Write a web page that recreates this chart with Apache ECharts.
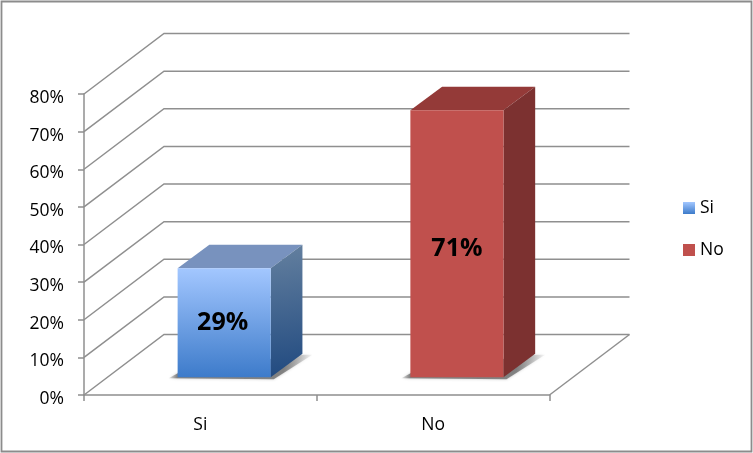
<!DOCTYPE html>
<html>
<head>
<meta charset="utf-8">
<style>html,body{margin:0;padding:0;background:#fff}#c{width:753px;height:453px}</style>
<script src="https://cdn.jsdelivr.net/npm/echarts@6/dist/echarts.min.js"></script>
</head>
<body>
<div id="c"></div>
<script>
var categories = ['Si', 'No'];
var values = [29, 71];
var yTicks = [0, 10, 20, 30, 40, 50, 60, 70, 80];

var FONT = '"Open Sans"';
var WALL_DX = 80, WALL_DY = 60.5;
var BAR_DX = 31.7, BAR_DY = 23.5;
var SHIFT_X = 23.8, SHIFT_Y = 17.7;
var LINE = '#8f8f8f';

function vGrad(a, b) {
  return new echarts.graphic.LinearGradient(0, 0, 0, 1, [{offset: 0, color: a}, {offset: 1, color: b}]);
}
var looks = [
  {
    front: vGrad('#a3c7ff', '#3d7bca'),
    side: new echarts.graphic.LinearGradient(0, 0, 0.5, 1, [{offset: 0, color: '#64809f'}, {offset: 1, color: '#214a80'}]),
    top: '#7892be',
    legend: vGrad('#a3c7ff', '#3d7bca'),
    labelDx: -1.5,
    labelDy: 0
  },
  {
    front: '#c0504d',
    side: '#7c3130',
    top: '#943a38',
    legend: '#c0504d',
    labelDx: 0,
    labelDy: 5
  }
];

function wallRender(params, api) {
  var cs = params.coordSys;
  var p = api.coord([0, api.value(1)]);
  var y = p[1], x0 = cs.x, x1 = cs.x + cs.width;
  var style = {stroke: LINE, lineWidth: 1.5, fill: null};
  var children = [{
    type: 'polyline',
    shape: {points: [[x0, y], [x0 + WALL_DX, y - WALL_DY], [x1 + WALL_DX, y - WALL_DY]]},
    style: style
  }];
  if (api.value(1) === 0) {
    children.push({
      type: 'polyline',
      shape: {points: [[x1, y], [x1 + WALL_DX, y - WALL_DY]]},
      style: style
    });
  }
  return {type: 'group', children: children};
}

function barRender(i) {
  return function (params, api) {
    var look = looks[i];
    var band = api.size([1, 0])[0];
    var w = band * 0.4;
    var c = api.coord([api.value(0), api.value(1)]);
    var base = api.coord([api.value(0), 0]);
    var l = c[0] - w / 2 + SHIFT_X, r = l + w;
    var t = c[1] - SHIFT_Y, b = base[1] - SHIFT_Y;
    var shadow = new echarts.graphic.LinearGradient(0, 0, 1, 0, [
      {offset: 0, color: 'rgba(110,110,110,0.1)'},
      {offset: 0.06, color: 'rgba(110,110,110,0.8)'},
      {offset: 0.8, color: 'rgba(110,110,110,0.8)'},
      {offset: 1, color: 'rgba(120,120,120,0.05)'}
    ]);
    return {type: 'group', children: [
      {type: 'polygon',
       shape: {points: [[l - 9, b + 1], [l + 2, b - 5], [r + BAR_DX - 3, b - BAR_DY + 1], [r + BAR_DX + 10, b - BAR_DY + 1], [r + 3, b + 2]]},
       style: {fill: shadow, shadowBlur: 3, shadowColor: 'rgba(140,140,140,0.6)'}},
      {type: 'polygon',
       shape: {points: [[l, t], [l + BAR_DX, t - BAR_DY], [r + BAR_DX, t - BAR_DY], [r, t]]},
       style: {fill: look.top}},
      {type: 'polygon',
       shape: {points: [[r, t], [r + BAR_DX, t - BAR_DY], [r + BAR_DX, b - BAR_DY], [r, b]]},
       style: {fill: look.side}},
      {type: 'rect',
       shape: {x: l, y: t, width: w, height: b - t},
       style: {fill: look.front}},
      {type: 'text',
       style: {
         x: (l + r) / 2 + look.labelDx, y: (t + b) / 2 + look.labelDy,
         text: api.value(1) + '%',
         align: 'center', verticalAlign: 'middle',
         font: 'bold 25px "Open Sans"', fill: '#000'
       }}
    ]};
  };
}

var series = [{
  name: 'walls',
  type: 'custom',
  silent: true,
  z: 1,
  renderItem: wallRender,
  encode: {x: 0, y: 1},
  data: yTicks.map(function (v) { return [categories[0], v]; })
}];
categories.forEach(function (name, i) {
  series.push({
    name: name,
    type: 'custom',
    z: 3,
    renderItem: barRender(i),
    encode: {x: 0, y: 1},
    itemStyle: {color: looks[i].legend},
    data: [[name, values[i]]]
  });
});

var chart = echarts.init(document.getElementById('c'), null, {renderer: 'canvas'});
chart.setOption({
  animation: false,
  backgroundColor: '#fff',
  graphic: [{
    type: 'rect',
    silent: true,
    shape: {x: 1.5, y: 1.5, width: 750, height: 450},
    style: {fill: null, stroke: '#8c8c8c', lineWidth: 1.8}
  }],
  grid: {left: 84, top: 94, width: 465.5, height: 301},
  legend: {
    data: categories,
    orient: 'vertical',
    left: 683,
    top: 199,
    itemWidth: 12,
    itemHeight: 12,
    itemGap: 24,
    icon: 'rect',
    padding: 0,
    selectedMode: false,
    textStyle: {fontFamily: FONT, fontSize: 17.5, color: '#000'}
  },
  xAxis: {
    type: 'category',
    data: categories,
    boundaryGap: true,
    axisLine: {lineStyle: {color: LINE, width: 1.5}},
    axisTick: {show: true, length: 6, lineStyle: {color: LINE, width: 1.5}},
    axisLabel: {margin: 21, fontFamily: FONT, fontSize: 17.5, color: '#000'},
    splitLine: {show: false}
  },
  yAxis: {
    type: 'value',
    min: 0,
    max: 80,
    interval: 10,
    axisLine: {show: true, lineStyle: {color: LINE, width: 1.5}},
    axisTick: {show: true, length: 6, lineStyle: {color: LINE, width: 1.5}},
    axisLabel: {
      margin: 20,
      formatter: '{value}%',
      fontFamily: FONT, fontSize: 17.5, color: '#000',
      verticalAlign: 'top',
      lineHeight: 8
    },
    splitLine: {show: false}
  },
  series: series
});
</script>
</body>
</html>
